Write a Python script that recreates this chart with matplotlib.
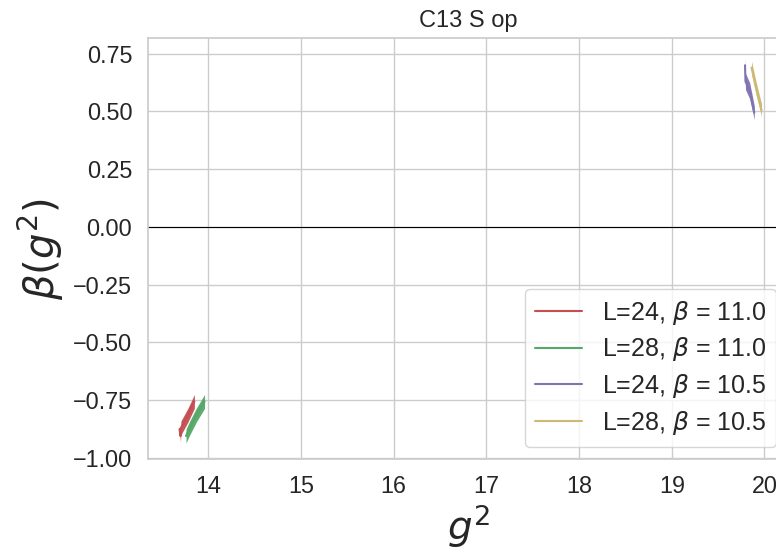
import matplotlib
matplotlib.use("Agg")
import matplotlib.pyplot as plt
import seaborn as sns

# beta-function estimates (g^2, beta(g^2), error) for each lattice run
labels = ["L=24, $\\beta$ = 11.0", "L=28, $\\beta$ = 11.0",
          "L=24, $\\beta$ = 10.5", "L=28, $\\beta$ = 10.5"]
colors = ["#C44E52", "#55A868", "#8172B2", "#CCB974"]

g2_L24_b110 = [13.690, 13.700, 13.705, 13.780, 13.850]
beta_L24_b110 = [-0.875, -0.905, -0.870, -0.815, -0.755]
err_L24_b110 = [0.012, 0.025, 0.030, 0.030, 0.030]

g2_L28_b110 = [13.760, 13.800, 13.870, 13.960]
beta_L28_b110 = [-0.905, -0.870, -0.815, -0.755]
err_L28_b110 = [0.030, 0.030, 0.030, 0.030]

g2_L24_b105 = [19.790, 19.795, 19.840, 19.890]
beta_L24_b105 = [0.700, 0.630, 0.590, 0.495]
err_L24_b105 = [0.030, 0.035, 0.035, 0.030]

g2_L28_b105 = [19.860, 19.910, 19.968]
beta_L28_b105 = [0.690, 0.600, 0.506]
err_L28_b105 = [0.028, 0.028, 0.028]

x_ticks = [14, 15, 16, 17, 18, 19, 20]
y_ticks = [-1.00, -0.75, -0.50, -0.25, 0.00, 0.25, 0.50, 0.75]

sns.set_theme(style="whitegrid", font_scale=1.5)
plt.rcParams["font.family"] = ["Liberation Sans", "DejaVu Sans"]
plt.rcParams["mathtext.fontset"] = "dejavusans"

fig = plt.figure(figsize=(7.76, 5.49), dpi=100)
ax = fig.add_axes([0.1911, 0.1634, 0.8256, 0.7674])

series = [
    (g2_L24_b110, beta_L24_b110, err_L24_b110),
    (g2_L28_b110, beta_L28_b110, err_L28_b110),
    (g2_L24_b105, beta_L24_b105, err_L24_b105),
    (g2_L28_b105, beta_L28_b105, err_L28_b105),
]
for (x, y, e), lab, col in zip(series, labels, colors):
    lo = [yi - ei for yi, ei in zip(y, e)]
    hi = [yi + ei for yi, ei in zip(y, e)]
    ax.fill_between(x, lo, hi, color=col, alpha=0.95, linewidth=0)
    ax.plot(x, y, color=col, lw=1.5, label=lab)

ax.axhline(0.0, color="black", lw=0.8)

ax.set_xlim(13.353, 20.264)
ax.set_ylim(-1.0056, 0.818)
ax.set_xticks(x_ticks)
ax.set_yticks(y_ticks)
ax.set_xticklabels([str(t) for t in x_ticks])
ax.set_yticklabels([f"{t:.2f}".replace("-", "\u2212") for t in y_ticks])
ax.tick_params(axis="both", labelsize=16.8, pad=5.5)

ax.set_title("C13 S op", fontsize=17, pad=8)
ax.set_xlabel("$g^2$", fontsize=28, labelpad=3)
ax.set_ylabel("$\\beta(g^2)$", fontsize=29, labelpad=5)

ax.legend(loc="lower right", fontsize=18, frameon=True,
          labelspacing=0.35, handlelength=1.9)

fig.savefig("out.png", dpi=100)
